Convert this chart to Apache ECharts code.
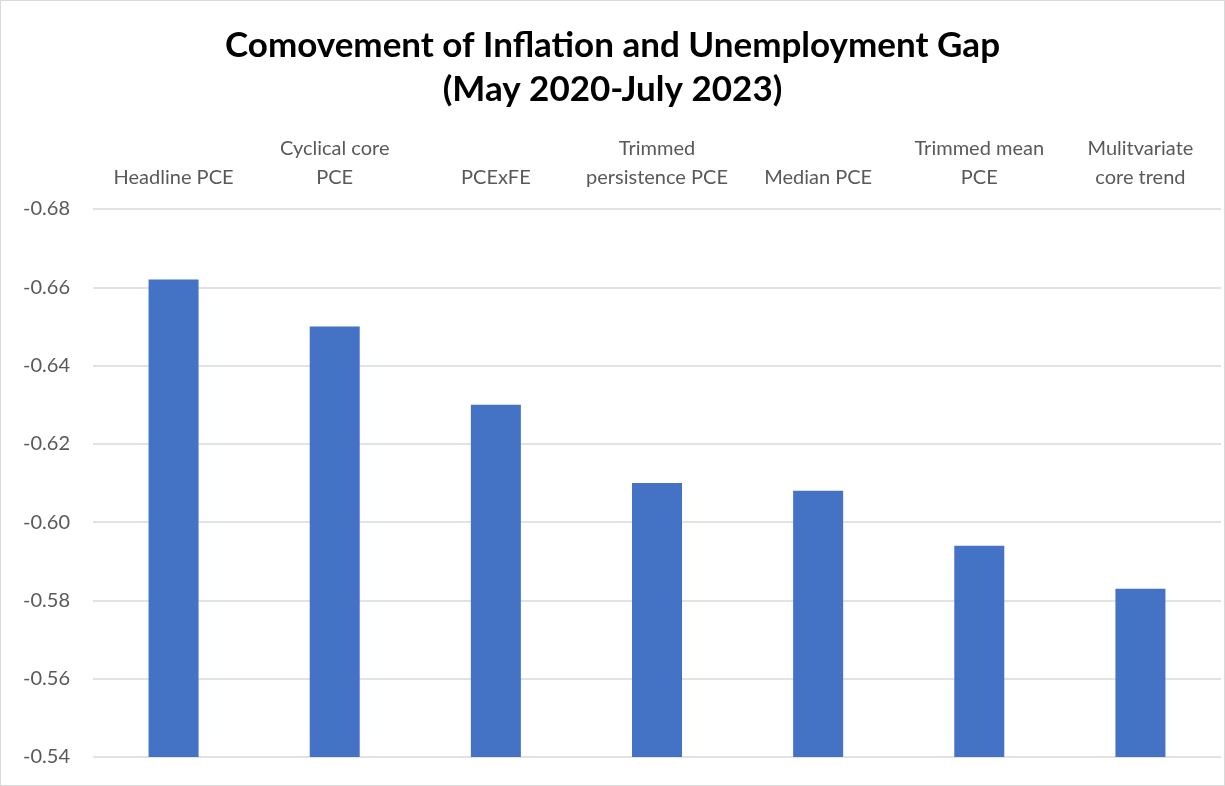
<!DOCTYPE html>
<html>
<head>
<meta charset="utf-8">
<script src="https://cdn.jsdelivr.net/npm/echarts@6/dist/echarts.min.js"></script>
<style>
  html, body { margin: 0; padding: 0; background: #fff; }
  #chart { width: 1225px; height: 786px; box-sizing: border-box; border: 1px solid #d9d9d9; }
</style>
</head>
<body>
<div id="chart"></div>
<script>
// Inflation measures and their comovement with the unemployment gap
const categories = [
  'Headline PCE',
  'Cyclical core\nPCE',
  'PCExFE',
  'Trimmed\npersistence PCE',
  'Median PCE',
  'Trimmed mean\nPCE',
  'Mulitvariate\ncore trend'
];
const comovement = [-0.662, -0.650, -0.630, -0.610, -0.608, -0.594, -0.583];

// Value axis range (drawn reversed: -0.68 at top)
const axisMin = -0.68;
const axisMax = -0.54;
const axisStep = 0.02;

const chart = echarts.init(document.getElementById('chart'));
const fontFamily = 'Lato, "Open Sans", "Noto Sans", sans-serif';

chart.setOption({
  animation: false,
  backgroundColor: '#ffffff',
  title: {
    text: 'Comovement of Inflation and Unemployment Gap\n(May 2020-July 2023)',
    left: 'center',
    top: 18,
    textStyle: {
      fontFamily: fontFamily,
      fontSize: 35,
      fontWeight: 'bold',
      color: '#000000',
      lineHeight: 44
    }
  },
  grid: { left: 92, right: 3, top: 208, bottom: 28, containLabel: false },
  xAxis: {
    type: 'category',
    position: 'top',
    data: categories,
    axisLine: { show: false },
    axisTick: { show: false },
    axisLabel: {
      interval: 0,
      margin: 17,
      fontFamily: fontFamily,
      fontSize: 20,
      lineHeight: 29,
      color: '#595959',
      verticalAlign: 'bottom',
      align: 'center'
    }
  },
  yAxis: {
    type: 'value',
    inverse: true,
    min: axisMin,
    max: axisMax,
    interval: axisStep,
    axisLine: { show: false },
    axisTick: { show: false },
    splitLine: { lineStyle: { color: '#d9d9d9', width: 1.5 } },
    axisLabel: {
      margin: 23,
      fontFamily: fontFamily,
      fontSize: 20,
      color: '#595959',
      formatter: v => v.toFixed(2)
    }
  },
  series: [{
    type: 'bar',
    data: comovement,
    barWidth: 50,
    clip: true,
    itemStyle: { color: '#4472c4' }
  }]
});
</script>
</body>
</html>
